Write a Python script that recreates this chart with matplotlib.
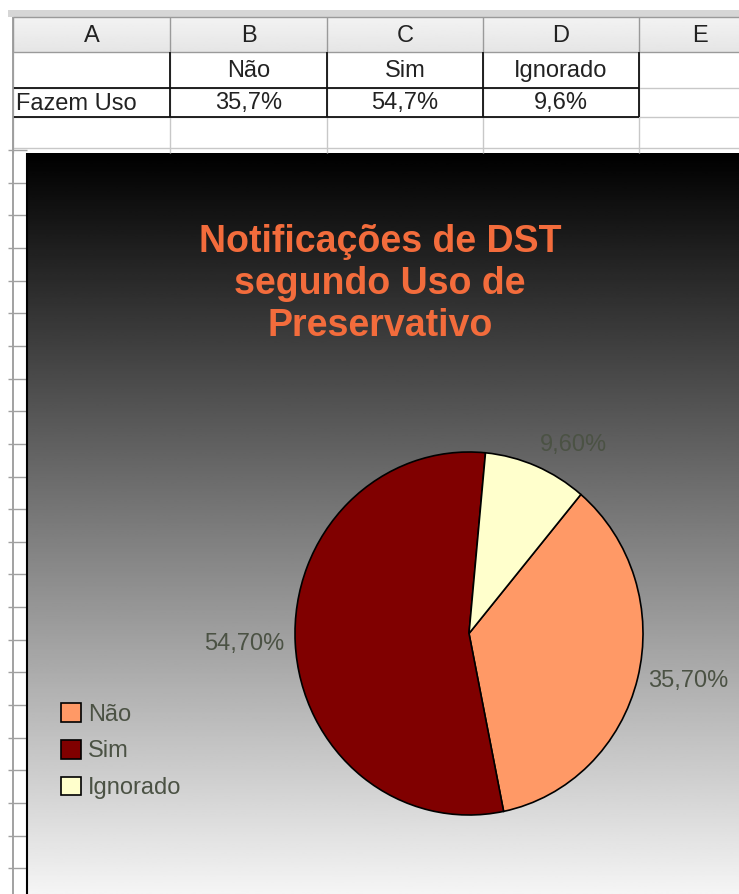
import numpy as np
from matplotlib import pyplot as plt

W, H = 739, 894

# data from the sheet
categories = ['Não', 'Sim', 'Ignorado']
cell_values = ['35,7%', '54,7%', '9,6%']
shares = [35.7, 54.7, 9.6]
pie_labels = ['35,70%', '54,70%', '9,60%']
row_label = 'Fazem Uso'
col_letters = ['A', 'B', 'C', 'D', 'E']

slice_colors = ['#ff9966', '#800000', '#ffffcc']
txt_grey = '#4b5244'
title_col = '#f36c3c'

plt.rcParams['font.family'] = ['Liberation Sans', 'DejaVu Sans']

fig = plt.figure(figsize=(W/100, H/100), dpi=100)
bg = fig.add_axes([0, 0, 1, 1])
bg.set_xlim(0, W)
bg.set_ylim(H, 0)
bg.axis('off')

# spreadsheet part
col_x = [13, 170, 327, 483, 639, 760]
hdr_top, hdr_bot = 17, 52
row_y = [52, 88, 117, 148]

bg.add_patch(plt.Rectangle((8, 10), W, 7, color='#d6d6d6', lw=0))
hdr = np.linspace(0.95, 0.90, 32).reshape(-1, 1)
bg.imshow(hdr, cmap='gray', vmin=0, vmax=1, extent=[13, W, hdr_bot, hdr_top],
          aspect='auto', zorder=0)
bg.hlines([hdr_top, hdr_bot], 13, W, color='#9a9a9a', lw=1)
bg.vlines(col_x[:5], hdr_top, hdr_bot, color='#9a9a9a', lw=1)
for i, c in enumerate(col_letters):
    bg.text((col_x[i] + col_x[i+1]) / 2, (hdr_top + hdr_bot) / 2 + 1, c,
            ha='center', va='center', fontsize=17, color='#222222')

# light grid
bg.hlines(row_y[1:], 13, W, color='#c8c8c8', lw=1)
bg.vlines(col_x[:5], hdr_bot, 153, color='#c8c8c8', lw=1)
# bordered cells
bg.hlines(row_y[1:3], 13, col_x[4], color='#111111', lw=1.3)
bg.vlines(col_x[1:5], row_y[0], row_y[2], color='#111111', lw=1.3)
bg.vlines(col_x[0], hdr_top, H, color='#9a9a9a', lw=1.3)

for i, c in enumerate(categories):
    bg.text((col_x[i+1] + col_x[i+2]) / 2, (row_y[0] + row_y[1]) / 2 + 1, c,
            ha='center', va='center', fontsize=17, color='#222222')
    bg.text((col_x[i+1] + col_x[i+2]) / 2, (row_y[1] + row_y[2]) / 2 + 1, cell_values[i],
            ha='center', va='center', fontsize=17, color='#222222')
bg.text(16, (row_y[1] + row_y[2]) / 2 + 1, row_label, ha='left', va='center',
        fontsize=17, color='#222222')

# row lines left of the chart
for y in np.arange(150, H, 32.65):
    bg.hlines(y, 8, 27, color='#a0a0a0', lw=1)

# chart background
grad = np.linspace(0.0, 0.96, 400).reshape(-1, 1)
bg.imshow(grad, cmap='gray', vmin=0, vmax=1, extent=[27, W, H, 153],
          aspect='auto', zorder=1)
bg.vlines(27, 153, H, color='#000000', lw=1.5, zorder=2)

bg.text(380, 284, 'Notificações de DST\nsegundo Uso de\nPreservativo',
        ha='center', va='center', fontsize=27, fontweight='bold',
        color=title_col, linespacing=1.2, zorder=3)

# pie
cx, cy, rx, ry = 469, 633.5, 174, 181.5
ax = fig.add_axes([(cx - rx) / W, (H - cy - ry) / H, 2 * rx / W, 2 * ry / H])
wedges, _ = ax.pie(shares, colors=slice_colors, startangle=50, counterclock=False,
                   wedgeprops=dict(edgecolor='black', linewidth=1.2))
ax.set_aspect('auto')
ax.set_xlim(-1, 1)
ax.set_ylim(-1, 1)
ax.patch.set_visible(False)

for w, lab in zip(wedges, pie_labels):
    a = np.deg2rad((w.theta1 + w.theta2) / 2)
    x, y = 1.06 * np.cos(a), 1.06 * np.sin(a)
    ha = 'left' if x > 0 else 'right'
    va = 'bottom' if y > 0.5 else ('top' if y < -0.5 else 'center')
    ax.text(x, y, lab, ha=ha, va=va, fontsize=17, color=txt_grey, clip_on=False)

ax.legend(wedges, categories, loc='upper left', bbox_to_anchor=(61 / W, 1 - 703 / H),
          bbox_transform=fig.transFigure, frameon=False, fontsize=17,
          labelcolor=txt_grey, handlelength=0.85, handleheight=0.85,
          handletextpad=0.3, labelspacing=0.6, borderpad=0, borderaxespad=0)

fig.savefig('out.png', dpi=100)
